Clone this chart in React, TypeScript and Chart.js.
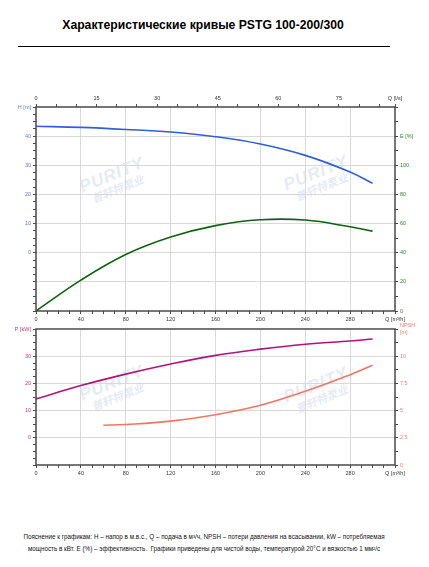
import React, { useEffect, useRef } from "react";
import { Chart, registerables } from "chart.js";

Chart.register(...registerables);

// ---------- data ----------
const flowH = [0, 40, 80, 120, 160, 200, 240, 280, 300];
const headM = [43.4, 43.0, 42.3, 41.4, 39.8, 37.3, 33.4, 27.7, 23.8];

const flowE = [0, 40, 80, 120, 160, 200, 240, 280, 300];
const effPct = [0, 21.2, 38.8, 50.8, 58.6, 62.6, 62.4, 57.8, 54.8];

const flowP = [0, 40, 80, 120, 160, 200, 240, 280, 300];
const powerKW = [14.3, 19.2, 23.4, 27.1, 30.3, 32.6, 34.4, 35.6, 36.3];

const flowN = [60, 80, 120, 160, 200, 240, 280, 300];
const npshM = [3.65, 3.72, 4.03, 4.62, 5.49, 6.78, 8.3, 9.16];

// tick labels
const flowLabelsM3h = [0, 40, 80, 120, 160, 200, 240, 280];
const flowLabelsLs = [0, 15, 30, 45, 60, 75];
const headLabels = [0, 10, 20, 30, 40];
const effLabels = [0, 20, 40, 60, 80, 100];
const powerLabels = [0, 10, 20, 30];
const npshLabels = [0, 2.5, 5, 7.5, 10];

const FLOW_MAX = 320;
const LS_MAX = FLOW_MAX / 3.6;

// ---------- styles ----------
const AXIS = "#4a4a4a";
const GRID = "#d9d9d9";
const NONE = "rgba(0,0,0,0)";
const C_H = "#2f5fd8";
const C_H_TXT = "#5a7fd6";
const C_E = "#0d640d";
const C_E_TXT = "#2a8a2a";
const C_P = "#b0147a";
const C_P_TXT = "#c2387f";
const C_N = "#f27664";
const C_N_TXT = "#f07a6a";

const tickFont = {
  family: "'Liberation Sans Narrow','Liberation Sans',Arial,sans-serif",
  size: 5.5,
};

function steps(min: number, max: number, step: number) {
  const out: { value: number }[] = [];
  for (let v = min; v <= max + 1e-9; v += step) out.push({ value: +v.toFixed(4) });
  return out;
}
const near = (a: number, b: number) => Math.abs(a - b) < 1e-6;
const inList = (v: number, list: number[]) => list.some((x) => near(x, v));

function pts(xs: number[], ys: number[]) {
  return xs.map((x, i) => ({ x, y: ys[i] }));
}

const framePlugin = {
  id: "frame",
  beforeDatasetsDraw(chart: any) {
    const { ctx, chartArea } = chart;
    const { left, top, right, bottom } = chartArea;
    ctx.save();
    ctx.strokeStyle = AXIS;
    ctx.lineWidth = 1.5;
    ctx.strokeRect(left, top, right - left, bottom - top);
    ctx.restore();
  },
};

function flowAxis(height: number) {
  return {
    type: "linear",
    position: "bottom",
    min: 0,
    max: FLOW_MAX,
    afterBuildTicks: (s: any) => {
      s.ticks = steps(0, FLOW_MAX, 10);
    },
    afterFit: (s: any) => {
      s.height = height;
    },
    border: { display: false },
    grid: {
      color: (c: any) =>
        c.tick && inList(c.tick.value, flowLabelsM3h) && c.tick.value > 0 ? GRID : NONE,
      tickColor: AXIS,
      tickLength: 3,
      lineWidth: 1,
    },
    ticks: {
      autoSkip: false,
      maxRotation: 0,
      minRotation: 0,
      padding: 2,
      font: tickFont,
      color: "#333",
      callback: (v: number) =>
        near(v, FLOW_MAX) ? "Q [m³/h]" : inList(v, flowLabelsM3h) ? String(v) : "",
    },
  };
}

function yAxis(opts: {
  position: "left" | "right";
  min: number;
  max: number;
  step: number;
  labels: number[];
  gridAt: number[] | null;
  topLabel: any;
  topValue: number;
  color: string;
  width: number;
}) {
  return {
    type: "linear",
    position: opts.position,
    min: opts.min,
    max: opts.max,
    afterBuildTicks: (s: any) => {
      s.ticks = steps(opts.min, opts.max, opts.step);
    },
    afterFit: (s: any) => {
      s.width = opts.width;
    },
    border: { display: false },
    grid: {
      drawOnChartArea: !!opts.gridAt,
      color: (c: any) =>
        opts.gridAt && c.tick && inList(c.tick.value, opts.gridAt) ? GRID : NONE,
      tickColor: AXIS,
      tickLength: 3,
      lineWidth: 1,
    },
    ticks: {
      autoSkip: false,
      padding: 2,
      font: tickFont,
      color: opts.color,
      callback: (v: number) =>
        near(v, opts.topValue) ? opts.topLabel : inList(v, opts.labels) ? String(v) : "",
    },
  };
}

function lineDs(data: any[], color: string, yAxisID: string) {
  return {
    data,
    borderColor: color,
    backgroundColor: color,
    borderWidth: 1.6,
    pointRadius: 0,
    tension: 0.4,
    cubicInterpolationMode: "default",
    fill: false,
    yAxisID,
    xAxisID: "x",
  };
}

function TopChart() {
  const ref = useRef<HTMLCanvasElement>(null);
  useEffect(() => {
    const chart = new Chart(ref.current as HTMLCanvasElement, {
      type: "line",
      data: {
        datasets: [
          lineDs(pts(flowH, headM), C_H, "yH"),
          lineDs(pts(flowE, effPct), C_E, "yE"),
        ] as any,
      },
      options: {
        animation: false,
        responsive: false,
        events: [],
        layout: { padding: 0 },
        plugins: { legend: { display: false }, tooltip: { enabled: false } },
        scales: {
          x: flowAxis(19),
          xls: {
            type: "linear",
            position: "top",
            min: 0,
            max: LS_MAX,
            afterBuildTicks: (s: any) => {
              s.ticks = [...steps(0, 85, 5), { value: LS_MAX }];
            },
            afterFit: (s: any) => {
              s.height = 27;
            },
            border: { display: false },
            grid: { drawOnChartArea: false, tickColor: AXIS, tickLength: 3 },
            ticks: {
              autoSkip: false,
              maxRotation: 0,
              minRotation: 0,
              padding: 2,
              font: tickFont,
              color: "#333",
              callback: (v: number) =>
                near(v, LS_MAX) ? "Q [l/s]" : inList(v, flowLabelsLs) ? String(v) : "",
            },
          },
          yH: yAxis({
            position: "left",
            min: -20,
            max: 50,
            step: 2.5,
            labels: headLabels,
            gridAt: [-10, 0, 10, 20, 30, 40],
            topLabel: "H [m]",
            topValue: 50,
            color: C_H_TXT,
            width: 36,
          }),
          yE: yAxis({
            position: "right",
            min: 0,
            max: 140,
            step: 10,
            labels: effLabels,
            gridAt: null,
            topLabel: "E [%]",
            topValue: 120,
            color: C_E_TXT,
            width: 34,
          }),
        } as any,
      },
      plugins: [framePlugin],
    } as any);
    return () => chart.destroy();
  }, []);
  return (
    <canvas
      ref={ref}
      width={429}
      height={250}
      style={{ position: "absolute", left: 0, top: 80, width: 429, height: 250 }}
    />
  );
}

function BottomChart() {
  const ref = useRef<HTMLCanvasElement>(null);
  useEffect(() => {
    const chart = new Chart(ref.current as HTMLCanvasElement, {
      type: "line",
      data: {
        datasets: [
          lineDs(pts(flowP, powerKW), C_P, "yP"),
          lineDs(pts(flowN, npshM), C_N, "yN"),
        ] as any,
      },
      options: {
        animation: false,
        responsive: false,
        events: [],
        layout: { padding: { top: 11, left: 0, right: 0, bottom: 0 } },
        plugins: { legend: { display: false }, tooltip: { enabled: false } },
        scales: {
          x: flowAxis(23),
          yP: yAxis({
            position: "left",
            min: -10,
            max: 40,
            step: 2.5,
            labels: powerLabels,
            gridAt: [0, 10, 20, 30],
            topLabel: "P [kW]",
            topValue: 40,
            color: C_P_TXT,
            width: 36,
          }),
          yN: yAxis({
            position: "right",
            min: 0,
            max: 12.5,
            step: 1.25,
            labels: npshLabels,
            gridAt: null,
            topLabel: ["NPSH", "[m]"],
            topValue: 12.5,
            color: C_N_TXT,
            width: 34,
          }),
        } as any,
      },
      plugins: [framePlugin],
    } as any);
    return () => chart.destroy();
  }, []);
  return (
    <canvas
      ref={ref}
      width={429}
      height={170}
      style={{ position: "absolute", left: 0, top: 318, width: 429, height: 170 }}
    />
  );
}

function Watermark({ x, y }: { x: number; y: number }) {
  return (
    <div
      style={{
        position: "absolute",
        left: x - 45,
        top: y - 25,
        width: 90,
        height: 50,
        transform: "rotate(-22deg)",
        color: "#e6ebf4",
        fontFamily: "'Liberation Sans', Arial, sans-serif",
        fontWeight: "bold",
        fontStyle: "italic",
        lineHeight: 1,
        pointerEvents: "none",
        textAlign: "center",
      }}
    >
      <div style={{ fontSize: 17, letterSpacing: 1 }}>PURITY</div>
      <div style={{ fontSize: 11, fontFamily: "'Noto Sans CJK SC', sans-serif", marginTop: 1 }}>
        普轩特泵业
      </div>
    </div>
  );
}

export default function App() {
  useEffect(() => {
    document.body.style.margin = "0";
  }, []);
  return (
    <div
      style={{
        position: "relative",
        width: 429,
        height: 567,
        background: "#fff",
        overflow: "hidden",
        fontFamily: "'Liberation Sans', Arial, sans-serif",
      }}
    >
      <div
        style={{
          position: "absolute",
          left: 0,
          top: 18,
          width: 406,
          textAlign: "center",
          fontSize: 12.2,
          fontWeight: "bold",
          color: "#000",
        }}
      >
        Характеристические кривые PSTG 100-200/300
      </div>
      <div
        style={{
          position: "absolute",
          left: 18,
          top: 45.5,
          width: 372,
          height: 1,
          background: "#000",
        }}
      />
      <Watermark x={118} y={190} />
      <Watermark x={322} y={188} />
      <Watermark x={118} y={398} />
      <Watermark x={322} y={400} />
      <TopChart />
      <BottomChart />
      <div
        style={{
          position: "absolute",
          left: 0,
          top: 531,
          width: 408,
          textAlign: "center",
          fontSize: 6.3,
          lineHeight: "11.6px",
          color: "#111",
        }}
      >
        <div>
          Пояснение к графикам: H – напор в м.в.с., Q – подача в м³/ч, NPSH – потери давления на
          всасывании, kW – потребляемая
        </div>
        <div>
          мощность в кВт. E (%) – эффективность.&nbsp; Графики приведены для чистой воды,
          температурой 20°C и вязкостью 1 мм²/с
        </div>
      </div>
    </div>
  );
}
